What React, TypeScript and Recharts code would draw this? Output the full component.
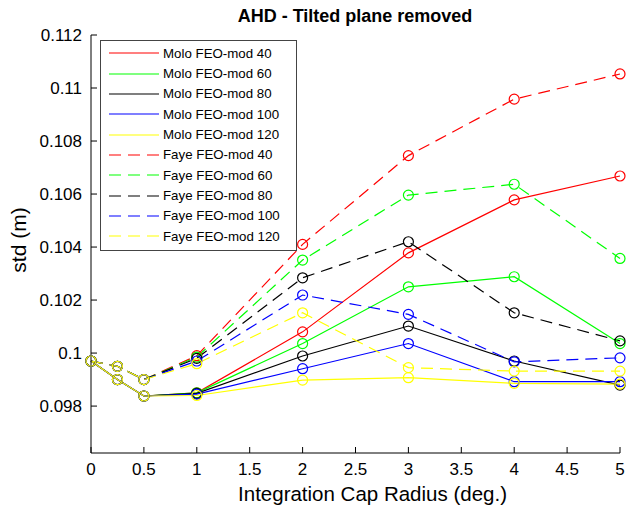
import { LineChart, Line, XAxis, YAxis, Legend, Label } from "recharts";

// x positions (integration cap radius, degrees)
const X_VALUES = [0, 0.25, 0.5, 1, 2, 3, 4, 5];

const MOLO_40 = [0.0997, 0.0990, 0.09838, 0.0985, 0.10080, 0.10378, 0.10578, 0.10668];
const MOLO_60 = [0.0997, 0.0990, 0.09838, 0.0985, 0.10036, 0.10250, 0.10288, 0.10036];
const MOLO_80 = [0.0997, 0.0990, 0.09838, 0.09848, 0.09989, 0.10102, 0.09970, 0.09879];
const MOLO_100 = [0.0997, 0.0990, 0.09838, 0.09845, 0.09941, 0.10036, 0.09892, 0.09892];
const MOLO_120 = [0.0997, 0.0990, 0.09838, 0.0984, 0.09898, 0.09907, 0.09886, 0.09883];
const FAYE_40 = [0.0997, 0.0995, 0.0990, 0.0999, 0.10410, 0.10745, 0.10958, 0.11053];
const FAYE_60 = [0.0997, 0.0995, 0.0990, 0.09985, 0.10351, 0.10596, 0.10637, 0.10357];
const FAYE_80 = [0.0997, 0.0995, 0.0990, 0.0998, 0.10284, 0.10420, 0.10152, 0.10046];
const FAYE_100 = [0.0997, 0.0995, 0.0990, 0.0997, 0.10219, 0.10146, 0.09967, 0.09982];
const FAYE_120 = [0.0997, 0.0995, 0.0990, 0.0996, 0.10152, 0.09945, 0.09932, 0.09932];

const X_TICKS = [0, 0.5, 1, 1.5, 2, 2.5, 3, 3.5, 4, 4.5, 5];
const Y_TICKS = [0.098, 0.1, 0.102, 0.104, 0.106, 0.108, 0.11, 0.112];

const SERIES = [
  { key: "m40", name: "Molo FEO-mod 40", color: "#ff0000", dashed: false, values: MOLO_40 },
  { key: "m60", name: "Molo FEO-mod 60", color: "#00ff00", dashed: false, values: MOLO_60 },
  { key: "m80", name: "Molo FEO-mod 80", color: "#000000", dashed: false, values: MOLO_80 },
  { key: "m100", name: "Molo FEO-mod 100", color: "#0000ff", dashed: false, values: MOLO_100 },
  { key: "m120", name: "Molo FEO-mod 120", color: "#ffff00", dashed: false, values: MOLO_120 },
  { key: "f40", name: "Faye FEO-mod 40", color: "#ff0000", dashed: true, values: FAYE_40 },
  { key: "f60", name: "Faye FEO-mod 60", color: "#00ff00", dashed: true, values: FAYE_60 },
  { key: "f80", name: "Faye FEO-mod 80", color: "#000000", dashed: true, values: FAYE_80 },
  { key: "f100", name: "Faye FEO-mod 100", color: "#0000ff", dashed: true, values: FAYE_100 },
  { key: "f120", name: "Faye FEO-mod 120", color: "#ffff00", dashed: true, values: FAYE_120 },
];

const FONT = "'Liberation Sans', Arial, sans-serif";
const DASH = "12 7";

const data = X_VALUES.map((x, i) => {
  const row: Record<string, number> = { x };
  SERIES.forEach(s => { row[s.key] = s.values[i]; });
  return row;
});

const fmtY = (v: number) => String(Number(v.toFixed(3)));

const YTick = ({ x, y, payload }: any) => (
  <g>
    <line x1={x} x2={x + 6} y1={y} y2={y} stroke="#000" />
    <text x={x - 9} y={y} dy="0.35em" textAnchor="end" fontSize={17} fontFamily={FONT} fill="#000">
      {fmtY(payload.value)}
    </text>
  </g>
);

const XTick = ({ x, y, payload }: any) => (
  <g>
    <line x1={x} x2={x} y1={y} y2={y - 6} stroke="#000" />
    <text x={x} y={y + 22} textAnchor="middle" fontSize={17} fontFamily={FONT} fill="#000">
      {payload.value}
    </text>
  </g>
);

const XLabel = ({ viewBox }: any) => (
  <text x={viewBox.x + viewBox.width / 2 + 17} y={viewBox.y + viewBox.height - 8} textAnchor="middle"
    fontSize={20.5} fontFamily={FONT} fill="#000">Integration Cap Radius (deg.)</text>
);

const YLabel = ({ viewBox }: any) => {
  const cx = viewBox.x + 18;
  const cy = viewBox.y + viewBox.height / 2 - 4;
  return (
    <text x={cx} y={cy} transform={`rotate(-90 ${cx} ${cy})`} textAnchor="middle" dominantBaseline="central"
      fontSize={21} fontFamily={FONT} fill="#000">std (m)</text>
  );
};

const LegendBox = () => (
  <div style={{ border: "1px solid #444", background: "#fff", width: 195, height: 207, boxSizing: "content-box", paddingTop: 2 }}>
    {SERIES.map(s => (
      <div key={s.key} style={{ display: "flex", alignItems: "center", height: 20.35, fontFamily: FONT, fontSize: 13.3, color: "#000", whiteSpace: "nowrap" }}>
        <svg width={58} height={10} style={{ flex: "none" }}>
          <line x1={8} x2={58} y1={5} y2={5} stroke={s.color} strokeWidth={1.2} strokeDasharray={s.dashed ? DASH : undefined} />
        </svg>
        <span style={{ marginLeft: 4 }}>{s.name}</span>
      </div>
    ))}
  </div>
);

export default function App() {
  return (
    <div style={{ position: "relative", width: 626, height: 509, background: "#fff" }}>
      <style>{"body{margin:0}"}</style>
      <div style={{ position: "absolute", left: 0, width: 710, top: 5, textAlign: "center", fontFamily: FONT, fontWeight: "bold", fontSize: 18, lineHeight: "22px", color: "#000", zIndex: 2, pointerEvents: "none" }}>
        AHD - Tilted plane removed
      </div>
      <LineChart width={626} height={509} data={data} margin={{ top: 35, right: 6, left: 0, bottom: 0 }}>
        <XAxis dataKey="x" type="number" domain={[0, 5]} ticks={X_TICKS}
          height={56} tickSize={0} tickMargin={0} tickLine={false} tick={<XTick />}
          axisLine={{ stroke: "#000" }}>
          <Label content={<XLabel />} />
        </XAxis>
        <YAxis type="number" domain={[0.09623, 0.112]} ticks={Y_TICKS}
          width={91} tickSize={0} tickMargin={0} tickLine={false} tick={<YTick />}
          axisLine={{ stroke: "#000" }} label={<YLabel />} />
        <Legend layout="vertical" align="center" verticalAlign="middle" content={<LegendBox />}
          wrapperStyle={{ position: "absolute", left: 100, top: 40, width: 197, height: 209 }} />
        {SERIES.map(s => (
          <Line key={s.key} dataKey={s.key} name={s.name} type="linear" stroke={s.color} strokeWidth={1.2}
            strokeDasharray={s.dashed ? DASH : undefined} isAnimationActive={false}
            dot={(p: any) => <circle key={`${s.key}-${p.index}`} cx={p.cx} cy={p.cy} r={5} fill="none" stroke={s.color} strokeWidth={1.2} />}
            activeDot={false} />
        ))}
      </LineChart>
    </div>
  );
}
